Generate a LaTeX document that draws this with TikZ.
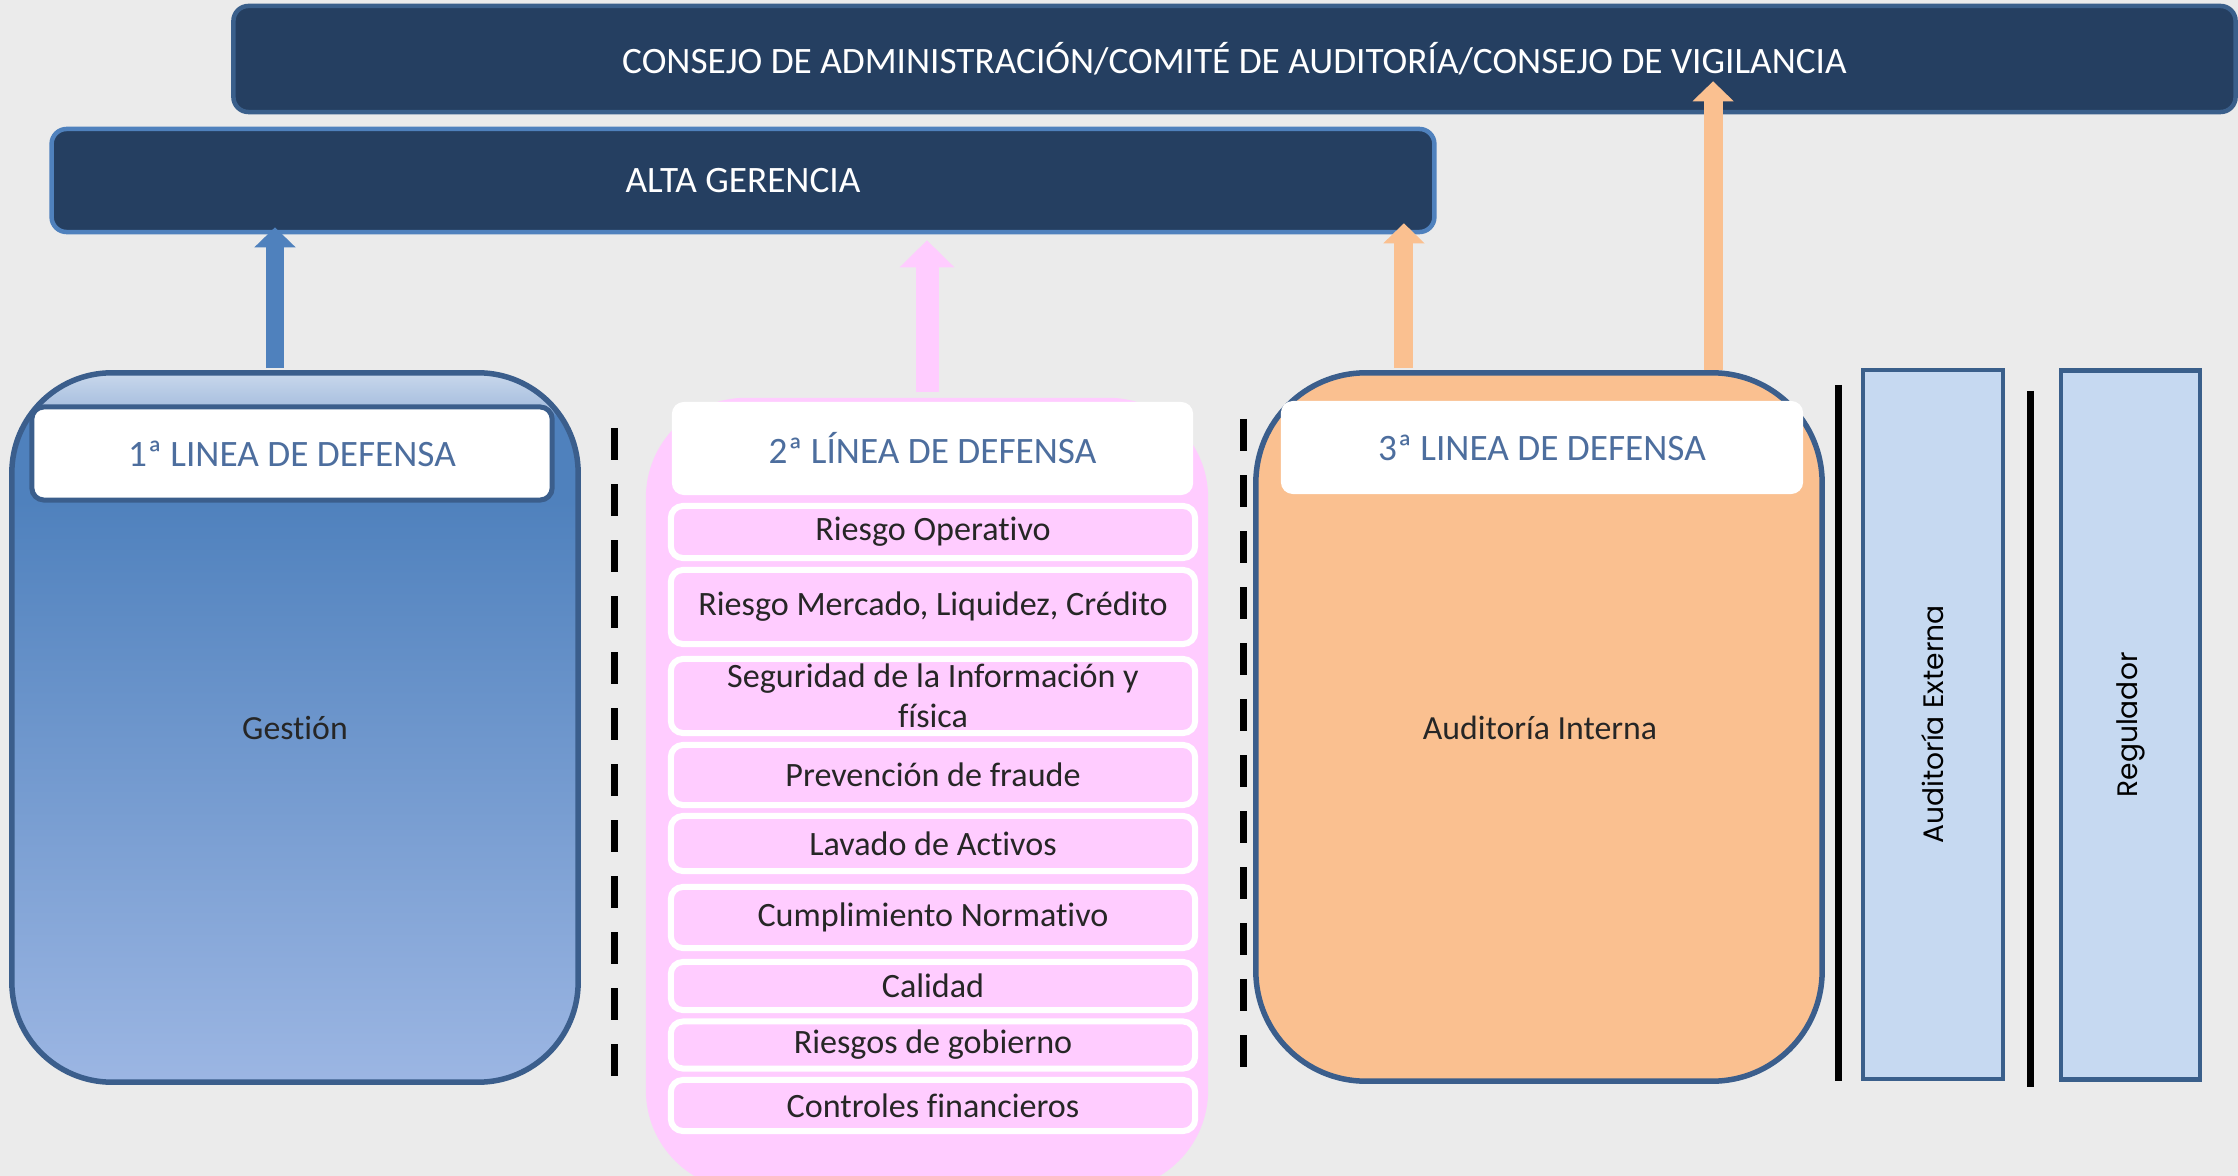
\documentclass[tikz,border=0pt]{standalone}
\usepackage{fontspec}
\setmainfont[Ligatures=NoCommon]{Carlito}
\newfontfamily\sidefont{Poppins}
\usetikzlibrary{positioning}
\usetikzlibrary{arrows.meta}

\definecolor{paper}{HTML}{EBEBEB}
\definecolor{navy}{HTML}{253F61}
\definecolor{navyedge}{HTML}{3A5F8B}
\definecolor{altaedge}{HTML}{4F81BD}
\definecolor{boxedge}{HTML}{3B5E8C}
\definecolor{headblue}{HTML}{4D6E9E}
\definecolor{pinkfill}{HTML}{FFCCFF}
\definecolor{orangefill}{HTML}{FAC090}
\definecolor{sidefill}{HTML}{C6D9F1}
\definecolor{blueA}{HTML}{4F81BD}
\definecolor{blueB}{HTML}{9CB6E3}
\definecolor{topA}{HTML}{C9D8EC}
\definecolor{topB}{HTML}{A8BFDF}

\pgfdeclareverticalshading{gestionshade}{100bp}{color(0bp)=(blueB); color(25bp)=(blueB);
  color(66bp)=(blueA); color(72bp)=(blueA); color(72.6bp)=(topB); color(75bp)=(topA); color(100bp)=(topA)}

\begin{document}
\begin{tikzpicture}[x=0.01cm, y=-0.01cm,
                    topbox/.style={rectangle, fill=navy, line width=0.045cm, rounded corners=0.15cm, text=white, inner sep=0pt, font=\fontsize{10.6}{12}\selectfont},
                    linebox/.style={rectangle, draw=boxedge, line width=0.055cm, rounded corners=1cm, inner sep=0pt},
                    headbox/.style={rectangle, fill=white, rounded corners=0.12cm, text=headblue, inner sep=0pt, font=\fontsize{10.6}{12}\selectfont},
                    itembox/.style={rectangle, fill=pinkfill, draw=white, line width=0.06cm, rounded corners=0.12cm, minimum width=5.24cm, inner sep=0pt, align=center, text=black!85, font=\fontsize{9.7}{11.3}\selectfont},
                    bodytext/.style={font=\fontsize{9.6}{12}\selectfont, text=black!85},
                    sidebox/.style={rectangle, fill=sidefill, draw=navyedge, line width=0.045cm, minimum height=7.09cm, inner sep=0pt},
                    sidetext/.style={rotate=90, font=\sidefont\fontsize{8}{10}\selectfont, text=black},
                    sepline/.style={line width=0.07cm, black, dash pattern=on 0.32cm off 0.24cm},
                    wall/.style={line width=0.07cm, black},
                    upblue/.style={line width=0.18cm, altaedge, -{Triangle[width=0.40cm,length=0.20cm]}},
                    uppink/.style={line width=0.23cm, pinkfill, -{Triangle[width=0.53cm,length=0.27cm]}},
                    uporange/.style={line width=0.19cm, orangefill, -{Triangle[width=0.40cm,length=0.20cm]}},
                   ]
  \clip (0,0) rectangle (2238,1176);
  \fill[paper] (0,0) rectangle (2238,1176);

  % Governance boxes
  \node[topbox, draw=navyedge, minimum width=20.01cm, minimum height=1.06cm] (consejo) at (1234.5,59) {CONSEJO DE ADMINISTRACIÓN/COMITÉ DE AUDITORÍA/CONSEJO DE VIGILANCIA};
  \node[topbox, draw=altaedge, minimum width=13.82cm, minimum height=1.03cm] (alta) at (743,180.5) {ALTA GERENCIA};

  % First line
  \node[linebox, shading=gestionshade, minimum width=5.66cm, minimum height=7.09cm] (gestion) at (295,727.5) {};
  \node[headbox, draw=boxedge, line width=0.05cm, minimum width=5.20cm, minimum height=0.93cm] (linea1) at (292,453.5) {1ª LINEA DE DEFENSA};
  \node[bodytext] (gestion_txt) at (295,728) {Gestión};

  % Second line
  \node[linebox, draw=none, fill=pinkfill, minimum width=5.62cm, minimum height=7.92cm] (linea2) at (927,794) {};
  \node[headbox, minimum width=5.21cm, minimum height=0.93cm] (linea2_head) at (932.5,448.5) {2ª LÍNEA DE DEFENSA};
  \node[itembox, minimum height=0.52cm] (item_1) at (933,532)    {Riesgo Operativo};
  \node[itembox, minimum height=0.74cm] (item_2) at (933,607)    {Riesgo Mercado, Liquidez, Crédito};
  \node[itembox, minimum height=0.74cm] (item_3) at (933,696)    {Seguridad de la Información y\\física};
  \node[itembox, minimum height=0.60cm] (item_4) at (933,775)    {Prevención de fraude};
  \node[itembox, minimum height=0.55cm] (item_5) at (933,843.5)  {Lavado de Activos};
  \node[itembox, minimum height=0.61cm] (item_6) at (933,917.5)  {Cumplimiento Normativo};
  \node[itembox, minimum height=0.48cm] (item_7) at (933,986)    {Calidad};
  \node[itembox, minimum height=0.47cm] (item_8) at (933,1045)   {Riesgos de gobierno};
  \node[itembox, minimum height=0.51cm] (item_9) at (933,1105.5) {Controles financieros};

  % Third line
  \node[linebox, fill=orangefill, rounded corners=1.1cm, minimum width=5.66cm, minimum height=7.08cm] (linea3) at (1539,727) {};
  \node[headbox, minimum width=5.22cm, minimum height=0.93cm] (linea3_head) at (1542,447.5) {3ª LINEA DE DEFENSA};
  \node[bodytext] (interna_txt) at (1540,728) {Auditoría Interna};

  % External boxes
  \node[sidebox, minimum width=1.40cm] (externa) at (1933,724.5) {};
  \node[sidetext] (externa_txt) at (externa.center) {Auditoría Externa};
  \node[sidebox, minimum width=1.39cm] (regulador) at (2130.5,725) {};
  \node[sidetext] (regulador_txt) at (regulador.center) {Regulador};

  % Separators
  \draw[sepline] (614,428) -- (614,1076);
  \draw[sepline] (1243,419) -- (1243,1067);
  \draw[wall] (1838,385) -- (1838,1081);
  \draw[wall] (2030,391) -- (2030,1087);

  % Arrows
  \draw[upblue] ([xshift=-0.20cm,yshift=0.02cm]gestion.north) -- ([xshift=-0.20cm,yshift=0.07cm]gestion.north |- alta.south);
  \draw[uppink] ([yshift=0.03cm]linea2.north) -- ([yshift=-0.06cm]linea2.north |- alta.south);
  \draw[uporange] ([xshift=-1.35cm,yshift=0.02cm]linea3.north) -- ([xshift=-1.35cm,yshift=0.11cm]linea3.north |- alta.south);
  \draw[uporange] ([xshift=1.74cm]linea3.north) -- ([xshift=1.74cm,yshift=0.33cm]linea3.north |- consejo.south);
\end{tikzpicture}
\end{document}
